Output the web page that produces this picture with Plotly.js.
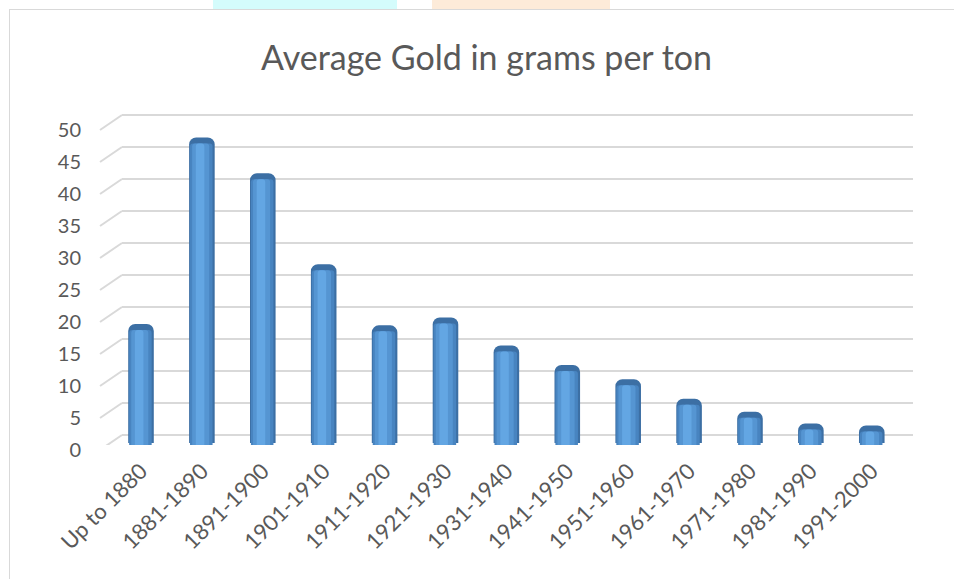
<!DOCTYPE html>
<html>
<head>
<meta charset="utf-8">
<script src="https://cdn.plot.ly/plotly-3.0.1.min.js"></script>
<style>
  html, body { margin: 0; padding: 0; background: #ffffff; }
  #wrap { position: relative; width: 954px; height: 579px; overflow: hidden; }
  #chart { position: absolute; left: 0; top: 0; width: 954px; height: 579px; }
  #frame { position: absolute; left: 9px; top: 9px; width: 980px; height: 620px;
           border: 1px solid #d9d9d9; z-index: 5; pointer-events: none; }
  .blob { position: absolute; top: 0; height: 9px; z-index: 4; }
</style>
</head>
<body>
<div id="wrap">
  <div class="blob" style="left:213px;width:184px;background:#d4fcfc;"></div>
  <div class="blob" style="left:432px;width:178px;background:#fdebd9;"></div>
  <div id="chart"></div>
  <div id="frame"></div>
</div>
<script>
// ---- data ----
const categories = ["Up to 1880", "1881-1890", "1891-1900", "1901-1910", "1911-1920",
  "1921-1930", "1931-1940", "1941-1950", "1951-1960", "1961-1970", "1971-1980",
  "1981-1990", "1991-2000"];
const goldGramsPerTon = [18.3, 47, 41.5, 27.5, 18.1, 19.3, 15, 12, 9.8, 6.8, 4.8, 3, 2.7];
const yTicks = [0, 5, 10, 15, 20, 25, 30, 35, 40, 45, 50];
const chartTitle = "Average Gold in grams per ton";

// ---- style ----
const FONT = "Lato, 'Open Sans', sans-serif";
const TXT = "#595959";
const GRID = "#d9d9d9";

// cylinder shading layers: [width, offset, color, axis]
const layers = [
  [0.42, -0.21, "#3c6fa4", "y2"],
  [0.37, -0.195, "#4884c0", "y3"],
  [0.28, -0.16, "#5595d2", "y3"],
  [0.14, -0.10, "#63a6e3", "y3"]
];

const traces = layers.map(function (L, i) {
  return {
    type: "bar",
    x: categories,
    y: goldGramsPerTon,
    xaxis: "x",
    yaxis: L[3],
    width: L[0],
    offset: L[1],
    marker: { color: L[2], line: { width: 0 }, cornerradius: i === 0 ? 7 : 3 },
    hoverinfo: "x+y",
    showlegend: false
  };
});

// diagonal floor/wall stubs for each gridline (3D look)
const stubShapes = yTicks.map(function (t) {
  return {
    type: "line", xref: "paper", yref: "y", layer: "below",
    x0: -0.0278, x1: 0, y0: t - 2.34, y1: t,
    line: { color: GRID, width: 2 }
  };
});

const layout = {
  width: 954, height: 579,
  margin: { l: 122, r: 41, t: 105, b: 134 },
  paper_bgcolor: "#ffffff",
  plot_bgcolor: "rgba(0,0,0,0)",
  barmode: "overlay",
  font: { family: FONT, color: TXT },
  title: {
    text: chartTitle,
    font: { family: FONT, size: 34, color: TXT },
    x: 0.51, xref: "container", xanchor: "center",
    y: 0.900, yref: "container", yanchor: "middle"
  },
  xaxis: {
    type: "category",
    range: [-0.312, 12.677],
    showgrid: false, showline: false, zeroline: false,
    ticks: "", tickangle: -45,
    ticklabelstandoff: 8,
    ticklabelshift: 0,
    tickfont: { family: FONT, size: 22, color: TXT }
  },
  yaxis: {
    range: [-1.5625, 51.5625],
    tickvals: yTicks,
    ticktext: yTicks.map(String),
    showgrid: true, gridcolor: GRID, gridwidth: 2,
    zeroline: false, showline: false, ticks: "",
    ticklabelshift: 15,
    ticklabelstandoff: 40,
    tickfont: { family: FONT, size: 20, color: TXT }
  },
  yaxis2: { overlaying: "y", range: [-0.308, 52.0], visible: false, fixedrange: true },
  yaxis3: { overlaying: "y", range: [0.615, 52.92], visible: false, fixedrange: true },
  shapes: stubShapes
};

Plotly.newPlot("chart", traces, layout, { displayModeBar: false, staticPlot: true });
</script>
</body>
</html>
